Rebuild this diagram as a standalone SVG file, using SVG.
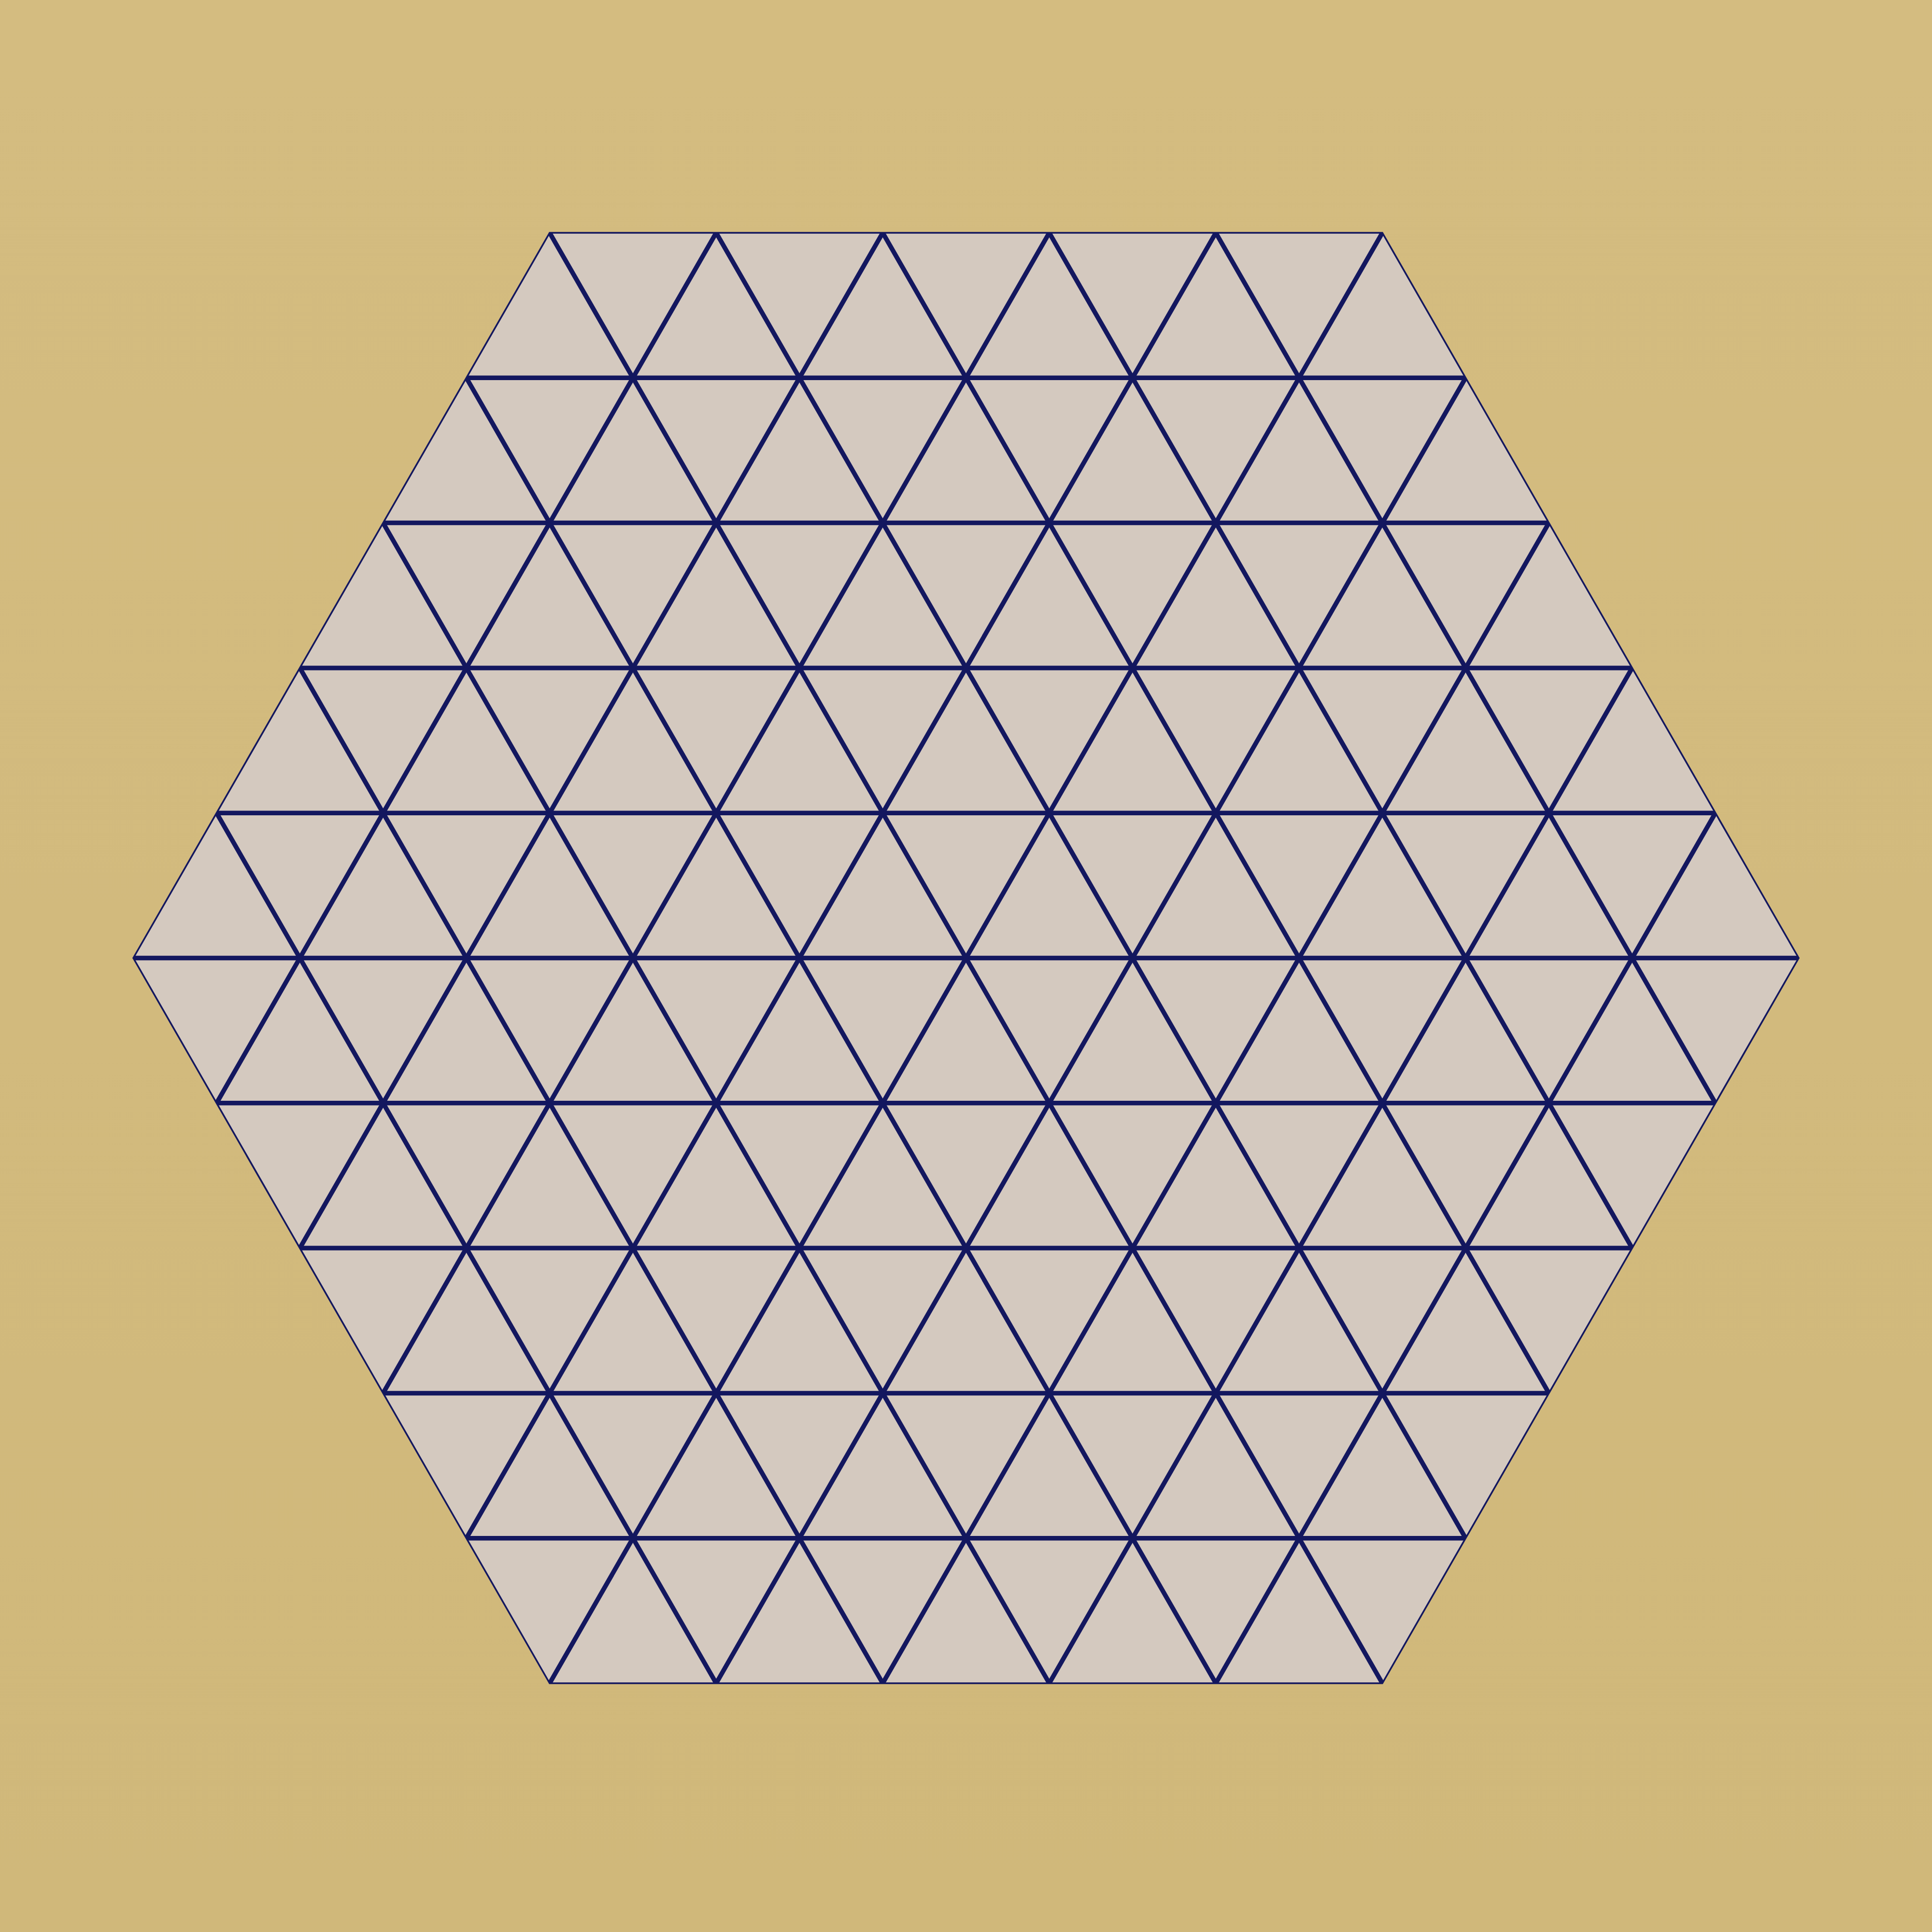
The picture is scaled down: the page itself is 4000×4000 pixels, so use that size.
<svg xmlns="http://www.w3.org/2000/svg" width="4000" height="4000" viewBox="0 0 4000 4000">
<style>
.grid line{stroke:#13175F;stroke-width:9.5;stroke-linecap:butt}
.hex{fill:#D4C9BF}
.border{fill:none;stroke:#13175F;stroke-width:3.5;stroke-linejoin:miter}
</style>
<defs>
<linearGradient id="bg" x1="0" y1="0" x2="0" y2="1">
<stop offset="0" stop-color="#D4BC80"/>
<stop offset="1" stop-color="#D0B87A"/>
</linearGradient>
<clipPath id="hexclip">
<polygon points="1138,482 2862,482 3724,1983.5 2862,3485 1138,3485 276,1983.5"/>
</clipPath>
</defs>
<rect id="background" x="0" y="0" width="4000" height="4000" fill="url(#bg)"/>
<g id="hexagon">
<polygon class="hex" points="1138,482 2862,482 3724,1983.5 2862,3485 1138,3485 276,1983.5"/>
</g>
<g id="grid" class="grid" clip-path="url(#hexclip)">
<line x1="965.6" y1="782.3" x2="3034.4" y2="782.3"/>
<line x1="793.2" y1="1082.6" x2="3206.8" y2="1082.6"/>
<line x1="620.8" y1="1382.9" x2="3379.2" y2="1382.9"/>
<line x1="448.4" y1="1683.2" x2="3551.6" y2="1683.2"/>
<line x1="276" y1="1983.5" x2="3724" y2="1983.5"/>
<line x1="448.4" y1="2283.8" x2="3551.6" y2="2283.8"/>
<line x1="620.8" y1="2584.1" x2="3379.2" y2="2584.1"/>
<line x1="793.2" y1="2884.4" x2="3206.8" y2="2884.4"/>
<line x1="965.6" y1="3184.7" x2="3034.4" y2="3184.7"/>
<line x1="1138" y1="482" x2="2862" y2="3485"/>
<line x1="1482.8" y1="482" x2="3034.4" y2="3184.7"/>
<line x1="1827.6" y1="482" x2="3206.8" y2="2884.4"/>
<line x1="2172.4" y1="482" x2="3379.2" y2="2584.1"/>
<line x1="2517.2" y1="482" x2="3551.6" y2="2283.8"/>
<line x1="965.6" y1="782.3" x2="2517.2" y2="3485"/>
<line x1="793.2" y1="1082.6" x2="2172.4" y2="3485"/>
<line x1="620.8" y1="1382.9" x2="1827.6" y2="3485"/>
<line x1="448.4" y1="1683.2" x2="1482.8" y2="3485"/>
<line x1="2862" y1="482" x2="1138" y2="3485"/>
<line x1="2517.2" y1="482" x2="965.6" y2="3184.7"/>
<line x1="2172.4" y1="482" x2="793.2" y2="2884.4"/>
<line x1="1827.6" y1="482" x2="620.8" y2="2584.1"/>
<line x1="1482.8" y1="482" x2="448.4" y2="2283.8"/>
<line x1="3034.4" y1="782.3" x2="1482.8" y2="3485"/>
<line x1="3206.8" y1="1082.6" x2="1827.6" y2="3485"/>
<line x1="3379.2" y1="1382.9" x2="2172.4" y2="3485"/>
<line x1="3551.6" y1="1683.2" x2="2517.2" y2="3485"/>
</g>
<g id="outline">
<polygon class="border" points="1138,482 2862,482 3724,1983.5 2862,3485 1138,3485 276,1983.5"/>
</g>
</svg>
